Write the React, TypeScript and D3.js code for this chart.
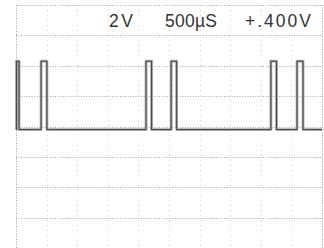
import { useEffect, useRef } from 'react';
import * as d3 from 'd3';

// scope settings
const timeDivs = [0, 500, 1000, 1500, 2000, 2500, 3000, 3500, 4000, 4500, 5000]; // µs
const voltDivs = [-8, -6, -4, -2, 0, 2, 4, 6, 8]; // V
const labels = ['2V', '500\u00b5S', '+.400V'];

// pulse edges (µs)
const riseTimes = [8, 410, 2125, 2535, 4165, 4592];
const fallTimes = [50, 505, 2215, 2625, 4257, 4690];
const lowLevel = -0.2;
const highLevel = 4.3;

const App = () => {
  const svgRef = useRef<SVGSVGElement>(null);

  useEffect(() => {
    if (!svgRef.current) return;
    const svg = d3.select(svgRef.current);
    svg.selectAll('*').remove();

    const width = 324;
    const height = 248;
    const left = 16, right = 322, top = 5, bottom = 248;

    const x = d3.scaleLinear().domain([0, 5000]).range([left, right]);
    const y = d3.scaleLinear().domain([-8, 8]).range([bottom, top]);

    svg.append('rect').attr('width', width).attr('height', height).attr('fill', '#fff');

    // graticule
    const grid = svg.append('g')
      .attr('stroke', '#8a8a8a')
      .attr('stroke-width', 1)
      .attr('stroke-dasharray', '1 1.6')
      .attr('fill', 'none');

    grid.selectAll('line.v')
      .data(timeDivs)
      .enter()
      .append('line')
      .attr('class', 'v')
      .attr('x1', d => Math.round(x(d)) + 0.5)
      .attr('x2', d => Math.round(x(d)) + 0.5)
      .attr('y1', top)
      .attr('y2', bottom)
      .attr('stroke-dasharray', (d, i) => (i === 0 || i === timeDivs.length - 1 ? '1 1.6' : '1 4'))
      .attr('opacity', (d, i) => (i === 0 || i === timeDivs.length - 1 ? 0.8 : 0.35));

    grid.selectAll('line.h')
      .data(voltDivs)
      .enter()
      .append('line')
      .attr('class', 'h')
      .attr('x1', left)
      .attr('x2', right)
      .attr('y1', d => Math.round(y(d)) + 0.5)
      .attr('y2', d => Math.round(y(d)) + 0.5)
      .attr('opacity', 0.75);

    // trace
    const pts: Array<[number, number]> = [[0, lowLevel]];
    riseTimes.forEach((r, i) => {
      pts.push([r, lowLevel], [r, highLevel], [fallTimes[i], highLevel], [fallTimes[i], lowLevel]);
    });
    pts.push([5000, lowLevel]);

    const line = d3.line<[number, number]>()
      .x(d => x(d[0]))
      .y(d => y(d[1]));

    svg.append('path')
      .attr('d', line(pts))
      .attr('fill', 'none')
      .attr('stroke', '#a8a8a8')
      .attr('stroke-width', 2.8)
      .attr('stroke-linejoin', 'round');

    svg.append('path')
      .attr('d', line(pts))
      .attr('fill', 'none')
      .attr('stroke', '#4a4a4a')
      .attr('stroke-width', 1.1)
      .attr('stroke-linejoin', 'round');

    // readout
    const textX = [109, 165, 245];
    const textW = [24, 52, 66];
    svg.selectAll('text.lbl')
      .data(labels)
      .enter()
      .append('text')
      .attr('class', 'lbl')
      .attr('x', (d, i) => textX[i])
      .attr('y', 27)
      .attr('textLength', (d, i) => textW[i])
      .attr('lengthAdjust', 'spacing')
      .attr('font-family', 'Liberation Sans, Arial, sans-serif')
      .attr('font-size', '17.5px')
      .attr('fill', '#333')
      .text(d => d);
  }, []);

  return (
    <div style={{ position: 'absolute', left: 0, top: 0, width: 324, height: 248 }}>
      <svg ref={svgRef} width={324} height={248} viewBox="0 0 324 248" style={{ display: 'block' }} />
    </div>
  );
};

export default App;
